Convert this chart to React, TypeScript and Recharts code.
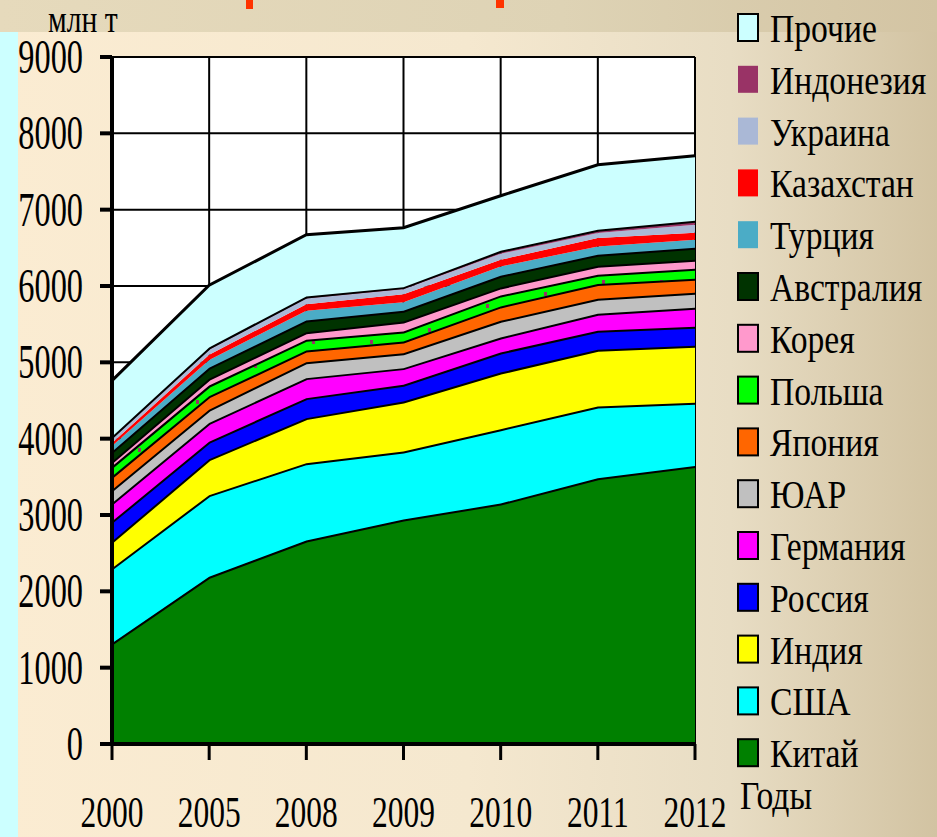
import { Area, AreaChart, CartesianGrid, XAxis, YAxis } from 'recharts'

const years = ['2000', '2005', '2008', '2009', '2010', '2011', '2012']
const yTicks = [0, 1000, 2000, 3000, 4000, 5000, 6000, 7000, 8000, 9000]

// млн т, bottom of the stack first
const china = [1320, 2190, 2665, 2940, 3150, 3482, 3643]
const usa = [983, 1070, 1014, 891, 974, 939, 826]
const india = [349, 470, 590, 655, 742, 743, 747]
const russia = [262, 230, 262, 219, 263, 249, 249]
const germany = [240, 245, 262, 219, 196, 223, 249]
const southAfrica = [175, 175, 209, 196, 219, 196, 197]
const japan = [174, 175, 153, 153, 188, 193, 183]
const poland = [131, 140, 140, 131, 144, 122, 131]
const korea = [65, 90, 100, 131, 105, 118, 118]
const australia = [130, 145, 153, 140, 153, 144, 157]
const turkey = [75, 100, 127, 113, 122, 109, 105]
const kazakhstan = [40, 70, 87, 105, 88, 110, 92]
const ukraine = [60, 65, 74, 66, 78, 65, 105]
const indonesia = [20, 30, 27, 26, 39, 44, 52]
const others = [736, 815, 808, 778, 721, 851, 852]

const SERIES = [
  { key: 'china', name: 'Китай', color: '#008000', values: china, border: true },
  { key: 'usa', name: 'США', color: '#00ffff', values: usa, border: true },
  { key: 'india', name: 'Индия', color: '#ffff00', values: india, border: true },
  { key: 'russia', name: 'Россия', color: '#0000ff', values: russia, border: true },
  { key: 'germany', name: 'Германия', color: '#ff00ff', values: germany, border: true },
  { key: 'southAfrica', name: 'ЮАР', color: '#c0c0c0', values: southAfrica, border: true },
  { key: 'japan', name: 'Япония', color: '#ff6600', values: japan, border: true },
  { key: 'poland', name: 'Польша', color: 'url(#polandDots)', values: poland, border: true },
  { key: 'korea', name: 'Корея', color: '#ff99cc', values: korea, border: true },
  { key: 'australia', name: 'Австралия', color: '#003300', values: australia, border: true },
  { key: 'turkey', name: 'Турция', color: '#4bacc6', values: turkey, border: false },
  { key: 'kazakhstan', name: 'Казахстан', color: '#ff0000', values: kazakhstan, border: false },
  { key: 'ukraine', name: 'Украина', color: '#aab8d6', values: ukraine, border: false },
  { key: 'indonesia', name: 'Индонезия', color: '#993366', values: indonesia, border: true },
  { key: 'others', name: 'Прочие', color: '#ccffff', values: others, border: true },
]

const data = years.map((year, i) => {
  const row: Record<string, string | number> = { year }
  for (const s of SERIES) row[s.key] = s.values[i]
  return row
})

const FONT = '"Liberation Serif", "Times New Roman", serif'

function YTick({ x, y, payload }: any) {
  return (
    <text
      transform={`translate(${x},${y + 16}) scale(0.66,1)`}
      textAnchor="end"
      fontFamily={FONT}
      fontSize={49}
      fill="#000"
    >
      {payload.value}
    </text>
  )
}

function XTick({ x, y, payload }: any) {
  return (
    <text
      transform={`translate(${x},${y + 59}) scale(0.7,1)`}
      textAnchor="middle"
      fontFamily={FONT}
      fontSize={45}
      fill="#000"
    >
      {payload.value}
    </text>
  )
}

function Dots({ id }: { id: string }) {
  return (
    <pattern id={id} patternUnits="userSpaceOnUse" width="58" height="12">
      <rect width="58" height="12" fill="#00ff00" />
      <rect x="22" y="4" width="3" height="4" fill="#993366" />
    </pattern>
  )
}

function Legend() {
  const items = [...SERIES].reverse()
  return (
    <svg
      width={937}
      height={837}
      style={{ position: 'absolute', left: 0, top: 0, pointerEvents: 'none' }}
    >
      <defs>
        <Dots id="polandDotsLegend" />
      </defs>
      <text
        transform="translate(48,32) scale(0.8,1)"
        fontFamily={FONT}
        fontSize={37}
        fill="#000"
      >
        млн т
      </text>
      {items.map((s, i) => {
        const base = 42 + i * 51.8
        return (
          <g key={s.key}>
            <rect
              x={738}
              y={base - 28}
              width={20}
              height={27}
              fill={s.key === 'poland' ? 'url(#polandDotsLegend)' : s.color}
              stroke={s.border && s.key !== 'indonesia' ? '#000' : 'none'}
              strokeWidth={2}
            />
            <text
              transform={`translate(770,${base}) scale(0.82,1)`}
              fontFamily={FONT}
              fontSize={41}
              fill="#000"
            >
              {s.name}
            </text>
          </g>
        )
      })}
      <text
        transform="translate(740,809) scale(0.82,1)"
        fontFamily={FONT}
        fontSize={41}
        fill="#000"
      >
        Годы
      </text>
    </svg>
  )
}

export default function App() {
  return (
    <div
      style={{
        position: 'absolute',
        left: 0,
        top: 0,
        width: 937,
        height: 837,
        overflow: 'hidden',
        background: 'linear-gradient(90deg, #fbecd2 0%, #f5e8cf 50%, #e8ddc4 78%, #d2c3a2 100%)',
      }}
    >
      <div
        style={{
          position: 'absolute',
          left: 0,
          top: 0,
          width: 937,
          height: 32,
          background: 'linear-gradient(90deg, #e6dabc 0%, #ded3b5 60%, #d3c4a3 100%)',
        }}
      />
      <div style={{ position: 'absolute', left: 0, top: 32, width: 18, height: 805, background: '#ccffff' }} />
      <div style={{ position: 'absolute', left: 246, top: 0, width: 7, height: 9, background: '#ff3300' }} />
      <div style={{ position: 'absolute', left: 496, top: 0, width: 8, height: 8, background: '#ff3300' }} />
      <div style={{ position: 'absolute', left: 0, top: 0 }}>
        <AreaChart
          width={937}
          height={837}
          data={data}
          margin={{ top: 57, right: 242, bottom: 0, left: 0 }}
        >
          <defs>
            <Dots id="polandDots" />
          </defs>
          <CartesianGrid stroke="#000" strokeWidth={2} fill="#fff" />
          <XAxis
            dataKey="year"
            height={93}
            tick={<XTick />}
            tickSize={16}
            tickMargin={8}
            axisLine={{ stroke: '#000', strokeWidth: 4 }}
            tickLine={{ stroke: '#000', strokeWidth: 3 }}
            interval={0}
          />
          <YAxis
            width={112}
            domain={[0, 9000]}
            ticks={yTicks}
            tick={<YTick />}
            tickSize={12}
            tickMargin={17}
            axisLine={{ stroke: '#000', strokeWidth: 4 }}
            tickLine={{ stroke: '#000', strokeWidth: 4 }}
            interval={0}
          />
          {SERIES.map((s) => (
            <Area
              key={s.key}
              type="linear"
              dataKey={s.key}
              name={s.name}
              stackId="1"
              fill={s.color}
              fillOpacity={1}
              stroke={s.border ? '#000' : 'none'}
              strokeWidth={s.key === 'others' ? 3 : 4}
              dot={false}
              activeDot={false}
              isAnimationActive={false}
            />
          ))}
        </AreaChart>
      </div>
      <Legend />
    </div>
  )
}
